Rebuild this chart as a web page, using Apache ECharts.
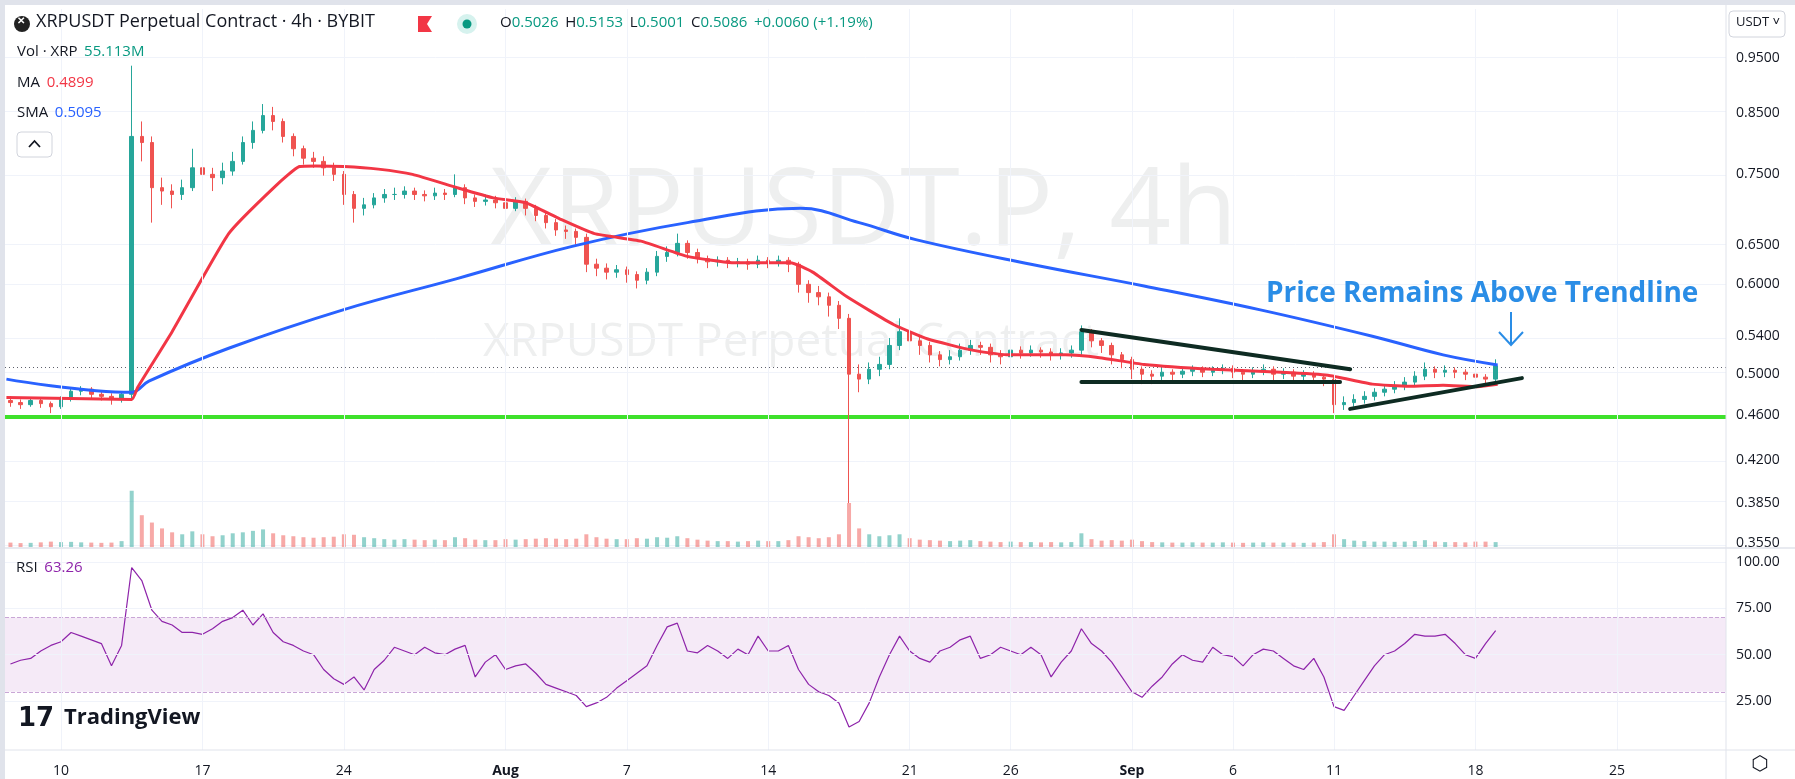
<!DOCTYPE html>
<html><head><meta charset="utf-8">
<script src="https://cdn.jsdelivr.net/npm/echarts@6/dist/echarts.min.js"></script>
<style>html,body{margin:0;padding:0;background:#fff}#c{width:1795px;height:779px}</style>
</head><body><div id="c"></div>
<script>
// 12h candles; x = day offset from 2023-07-10, first candle centred at -2.5
const closes=[.472,.470,.474,.471,.468,.475,.483,.485,.480,.478,.476,.480,
.810,.800,.730,.725,.720,.730,.760,.750,.745,.755,.770,.800,.820,.845,.835,.810,.790,.775,.770,.760,.750,.720,.700,.705,.715,.720,.720,.725,
.720,.718,.722,.720,.730,.715,.710,.712,.708,.700,.710,.700,.690,.680,.670,.668,.660,.625,.620,.615,.618,.612,.605,.615,.635,.640,.652,.640,.632,.628,
.630,.627,.628,.625,.630,.627,.630,.625,.600,.590,.585,.575,.560,.500,.495,.505,.510,.530,.545,.535,.530,.520,.515,.518,.525,.530,.528,.520,.518,.525,
.522,.525,.523,.520,.522,.525,.545,.535,.530,.520,.515,.505,.500,.498,.502,.500,.503,.505,.502,.504,.506,.502,.500,.503,.505,.500,.502,.498,.500,.497,
.495,.470,.472,.475,.478,.482,.485,.488,.492,.498,.505,.502,.504,.502,.500,.497,.495,.5086];
const lows=[.468,.466,.468,.467,.462,.466,.473,.479,.476,.474,.470,.472,
.476,.770,.680,.705,.700,.712,.725,.735,.725,.735,.748,.765,.790,.815,.820,.800,.778,.765,.760,.748,.740,.705,.680,.690,.700,.708,.712,.714,
.712,.710,.712,.712,.716,.706,.702,.704,.700,.692,.696,.690,.682,.672,.662,.658,.650,.615,.610,.606,.608,.602,.595,.600,.610,.628,.635,.632,.626,.620,
.622,.620,.621,.618,.620,.620,.622,.615,.590,.578,.575,.562,.548,.385,.482,.490,.498,.505,.525,.528,.520,.512,.508,.510,.514,.520,.520,.512,.510,.514,
.516,.518,.517,.514,.515,.517,.520,.528,.522,.510,.506,.495,.490,.490,.494,.494,.496,.498,.497,.498,.500,.496,.494,.496,.499,.494,.495,.492,.493,.491,
.488,.462,.465,.468,.471,.474,.478,.481,.484,.488,.494,.496,.497,.496,.494,.490,.488,.493];
const highs=[.478,.475,.477,.476,.473,.478,.486,.488,.487,.483,.481,.482,
.935,.835,.810,.745,.735,.742,.790,.770,.760,.768,.785,.810,.835,.865,.860,.840,.815,.795,.785,.778,.768,.755,.725,.715,.722,.728,.730,.732,
.730,.726,.730,.728,.750,.735,.720,.720,.718,.712,.716,.714,.705,.694,.685,.676,.672,.665,.632,.626,.624,.622,.616,.620,.642,.648,.665,.656,.645,.636,
.635,.634,.633,.632,.636,.634,.636,.634,.628,.605,.598,.590,.580,.565,.510,.512,.518,.538,.560,.550,.540,.534,.524,.525,.532,.536,.534,.532,.525,.530,
.529,.530,.528,.527,.527,.530,.552,.548,.538,.533,.523,.518,.508,.504,.507,.505,.507,.509,.508,.508,.510,.509,.505,.507,.510,.508,.506,.505,.504,.503,
.500,.497,.478,.480,.483,.486,.490,.493,.497,.503,.512,.508,.509,.507,.505,.503,.500,.5153];
const firstOpen=.474;
const volumes=[90,80,85,95,110,100,105,95,90,85,90,120,
1150,650,500,380,300,260,320,260,220,240,280,300,330,360,280,240,220,200,190,200,210,260,250,200,180,160,150,160,
150,140,150,140,200,180,150,140,140,160,150,160,170,180,170,160,170,260,200,170,160,160,180,170,200,190,220,180,150,130,
120,120,110,120,130,120,120,140,220,200,180,200,260,900,380,260,220,240,260,180,150,140,130,120,130,140,120,110,100,110,
100,100,95,100,95,100,280,160,130,140,130,150,120,100,95,90,90,95,90,90,95,90,85,90,95,90,90,90,85,90,
100,260,160,130,120,110,110,105,110,120,140,110,100,100,95,110,110,100];
const rsi=[45,47,48,52,55,57,62,60,58,56,44,55,
97,90,74,68,66,62,62,61,64,68,70,74,66,72,62,57,55,52,50,42,37,34,38,31,42,47,54,52,
50,54,51,50,53,55,38,46,50,42,44,45,40,34,32,30,28,22,24,27,32,36,40,44,55,65,67,52,51,55,
52,48,53,50,60,52,52,55,42,34,30,28,24,11,14,24,38,50,60,52,48,46,52,54,58,60,48,50,54,52,
50,54,50,38,46,52,64,56,52,46,38,30,27,33,38,45,50,47,46,54,50,49,44,50,53,52,48,44,42,48,
38,22,20,28,36,44,50,52,56,61,60,60,61,56,50,48,56,63];
// moving averages: [day offset from Jul 10, price]
const maPts=[[-2.7,.477],[3.5,.475],[3.8,.487],[5.5,.545],[8.3,.665],[10.6,.732],[11.8,.762],[12.6,.763],[14,.762],[15.7,.758],[17.4,.75],[19.6,.73],[21.4,.715],[23,.708],[24.7,.685],[26.4,.665],[28.7,.655],[31,.635],[33.2,.627],[36.1,.627],[37.2,.615],[38.9,.585],[41.2,.553],[42.9,.537],[45.1,.525],[46.8,.52],[49.7,.52],[51.4,.517],[53.6,.51],[57,.505],[60.4,.502],[62.7,.499],[64.9,.49],[66.7,.488],[68.4,.489],[70.1,.4875],[71.1,.4899]];
const smaPts=[[-2.7,.495],[3.5,.482],[4.35,.493],[8.3,.527],[14,.57],[19.6,.607],[25.3,.648],[31,.68],[36.6,.70],[39.5,.68],[42.3,.657],[48,.625],[53.6,.598],[59.3,.57],[64.9,.54],[68.4,.52],[71.1,.5095]];
const trendUpper=[[50.5,.547],[63.8,.505]];
const trendFlat=[[50.5,.492],[63.3,.492]];
const trendRising=[[63.8,.466],[72.3,.496]];
const supportLevel=.458, lastPrice=.5086;
const priceTicks=[0.95,0.85,0.75,0.65,0.60,0.54,0.50,0.46,0.42,0.385,0.355];
const rsiTicks=[25,50,75,100];
const dateTickDays=[0,7,14,22,28,35,42,47,53,58,63,70,77];
const dateTickLabels=['10','17','24','Aug','7','14','21','26','Sep','6','11','18','25'];

const t=i=>-2.5+0.5*i, L=Math.log;
const xMin=-2.77, xMax=82.4;
const cdata=closes.map((c,i)=>{const o=i?closes[i-1]:firstOpen;return [t(i),L(o),L(c),L(lows[i]),L(highs[i])];});
const vdata=volumes.map((v,i)=>{const o=i?closes[i-1]:firstOpen;return {value:[t(i),v],itemStyle:{color:closes[i]>=o?'rgba(38,166,154,0.5)':'rgba(239,83,80,0.5)'}};});
const pts=a=>a.map(([d,p])=>[d,L(p)]);
const F='"Open Sans", sans-serif';
const gridCol='#f0f3fa';
const labelOf=v=>{const k=dateTickDays.findIndex(d=>Math.abs(d-v)<1e-6);return k<0?'':dateTickLabels[k];};
const bold=new Set(['Aug','Sep']);

const chart=echarts.init(document.getElementById('c'));
chart.setOption({
 animation:false,
 grid:[{left:5,right:69,top:9,height:538},{left:5,right:69,top:549,height:201}],
 xAxis:[
  {type:'value',gridIndex:0,min:xMin,max:xMax,axisLine:{show:false},axisTick:{show:false},axisLabel:{show:false},splitLine:{show:false}},
  {type:'value',gridIndex:1,min:xMin,max:xMax,axisLine:{show:false},axisTick:{show:false},splitLine:{show:false},
   axisLabel:{customValues:dateTickDays,margin:14,fontFamily:F,fontSize:14,color:'#131722',
     formatter:v=>{const s=labelOf(v);return bold.has(s)?'{b|'+s+'}':s;},rich:{b:{fontWeight:'bold',fontFamily:F,fontSize:14,color:'#131722'}}}}
 ],
 yAxis:[
  {type:'value',gridIndex:0,position:'right',min:L(0.3521),max:L(1.049),axisLine:{show:false},axisTick:{show:false},splitLine:{show:false},
   axisLabel:{customValues:priceTicks.map(L),formatter:v=>Math.exp(v).toFixed(4),fontFamily:F,fontSize:14,color:'#131722',margin:10}},
  {type:'value',gridIndex:0,min:0,max:11000,show:false},
  {type:'value',gridIndex:1,position:'right',min:-1.4,max:107,axisLine:{show:false},axisTick:{show:false},splitLine:{show:false},
   axisLabel:{customValues:rsiTicks,formatter:v=>v.toFixed(2),fontFamily:F,fontSize:14,color:'#131722',margin:10}}
 ],
 series:[
  {type:'bar',xAxisIndex:0,yAxisIndex:1,data:vdata,barWidth:4,z:1,
   markLine:{silent:true,symbol:'none',label:{show:false},lineStyle:{color:gridCol,width:1,type:'solid'},
     data:dateTickDays.map(d=>({xAxis:d}))}},
  {type:'candlestick',xAxisIndex:0,yAxisIndex:0,data:cdata,barWidth:4,z:3,
   itemStyle:{color:'#26a69a',color0:'#ef5350',borderColor:'#26a69a',borderColor0:'#ef5350',borderWidth:1},
   markLine:{silent:true,symbol:'none',label:{show:false},z:1,
     data:[...priceTicks.map(p=>({yAxis:L(p),lineStyle:{color:gridCol,width:1,type:'solid'}})),
       {yAxis:L(lastPrice),lineStyle:{color:'#5d606b',width:1,type:[1,3]}},
       {yAxis:L(supportLevel),lineStyle:{color:'#3ee12b',width:4,type:'solid'}}]}},
  {type:'line',xAxisIndex:0,yAxisIndex:0,data:pts(smaPts),smooth:0.4,symbol:'none',z:4,lineStyle:{color:'#2962ff',width:3}},
  {type:'line',xAxisIndex:0,yAxisIndex:0,data:pts(maPts),smooth:0.15,symbol:'none',z:4,lineStyle:{color:'#f23645',width:3}},
  ...[trendUpper,trendFlat,trendRising].map(a=>({type:'line',xAxisIndex:0,yAxisIndex:0,data:pts(a),symbol:'none',z:5,lineStyle:{color:'#0e2b22',width:4,cap:'round'}})),
  {type:'line',xAxisIndex:1,yAxisIndex:2,data:rsi.map((v,i)=>[t(i),v]),symbol:'none',z:4,lineStyle:{color:'#8e24aa',width:1.2},
   markArea:{silent:true,itemStyle:{color:'rgba(186,104,200,0.14)'},data:[[{yAxis:30},{yAxis:70}]]},
   markLine:{silent:true,symbol:'none',label:{show:false},
     data:[{yAxis:70,lineStyle:{color:'#c9a6d6',type:'dashed',width:1}},{yAxis:30,lineStyle:{color:'#c9a6d6',type:'dashed',width:1}},
       ...rsiTicks.map(v=>({yAxis:v,lineStyle:{color:gridCol,type:'solid',width:1}})),
       ...dateTickDays.map(d=>({xAxis:d,lineStyle:{color:gridCol,type:'solid',width:1}}))]}}
 ],
 graphic:[
  {type:'rect',shape:{x:0,y:0,width:5,height:779},style:{fill:'#e0e3eb'},z:10},
  {type:'rect',shape:{x:0,y:0,width:1795,height:5},style:{fill:'#e0e3eb'},z:10},
  {type:'line',shape:{x1:5,y1:548,x2:1795,y2:548},style:{stroke:'#e0e3eb',lineWidth:1.5},z:10},
  {type:'line',shape:{x1:5,y1:750,x2:1795,y2:750},style:{stroke:'#e0e3eb',lineWidth:1},z:10},
  {type:'line',shape:{x1:1726,y1:5,x2:1726,y2:779},style:{stroke:'#e0e3eb',lineWidth:1},z:10},
  {type:'text',left:490,top:160,style:{text:'XRPUSDT.P, 4h',font:'108px "Open Sans", sans-serif',fill:'rgba(19,23,34,0.07)'},z:0},
  {type:'text',left:483,top:320,style:{text:'XRPUSDT Perpetual Contract',font:'46px "Open Sans", sans-serif',fill:'rgba(19,23,34,0.07)'},z:0},
  {type:'circle',shape:{cx:22,cy:24,r:8},style:{fill:'#222'},z:10},
  {type:'text',left:17,top:16,style:{text:'✕',font:'bold 10px sans-serif',fill:'#fff'},z:11},
  {type:'text',left:36,top:13,style:{text:'XRPUSDT Perpetual Contract · 4h · BYBIT',font:'18px '+F,fill:'#131722'},z:10},
  {type:'polygon',shape:{points:[[418,16],[432,16],[427,24],[432,32],[418,32]]},style:{fill:'#f23645'},z:10},
  {type:'circle',shape:{cx:467,cy:24,r:10},style:{fill:'#d6f2ee'},z:10},
  {type:'circle',shape:{cx:467,cy:24,r:4.5},style:{fill:'#089981'},z:10},
  {type:'text',left:500,top:15,style:{rich:{k:{font:'15px '+F,fill:'#131722'},v:{font:'15px '+F,fill:'#089981'}},
    text:'{k|O}{v|0.5026}  {k|H}{v|0.5153}  {k|L}{v|0.5001}  {k|C}{v|0.5086}  {v|+0.0060 (+1.19%)}'},z:10},
  {type:'text',left:17,top:44,style:{rich:{k:{font:'15px '+F,fill:'#131722'},v:{font:'15px '+F,fill:'#089981'}},text:'{k|Vol · XRP}  {v|55.113M}'},z:10},
  {type:'text',left:17,top:75,style:{rich:{k:{font:'15px '+F,fill:'#131722'},v:{font:'15px '+F,fill:'#f23645'}},text:'{k|MA}  {v|0.4899}'},z:10},
  {type:'text',left:17,top:105,style:{rich:{k:{font:'15px '+F,fill:'#131722'},v:{font:'15px '+F,fill:'#2962ff'}},text:'{k|SMA}  {v|0.5095}'},z:10},
  {type:'rect',shape:{x:17,y:132,width:35,height:25,r:4},style:{fill:'#fff',stroke:'#d1d4dc',lineWidth:1},z:10},
  {type:'polyline',shape:{points:[[29,147],[34.5,141],[40,147]]},style:{stroke:'#131722',lineWidth:1.8,fill:null},z:11},
  {type:'text',left:16,top:560,style:{rich:{k:{font:'15px '+F,fill:'#131722'},v:{font:'15px '+F,fill:'#8e24aa'}},text:'{k|RSI}  {v|63.26}'},z:10},
  {type:'text',left:18,top:706,style:{text:'17',font:'bold 26px "DejaVu Sans", sans-serif',fill:'#131722'},z:10},
  {type:'text',left:64,top:707,style:{text:'TradingView',font:'bold 22px '+F,fill:'#131722'},z:10},
  {type:'rect',shape:{x:1729,y:11,width:56,height:26,r:4},style:{fill:'#fff',stroke:'#d1d4dc',lineWidth:1},z:10},
  {type:'text',left:1736,top:16,style:{text:'USDT ˅',font:'13px '+F,fill:'#131722'},z:11},
  {type:'text',left:1266,top:280,style:{text:'Price Remains Above Trendline',font:'bold 28px '+F,fill:'#2a8de6'},z:10},
  {type:'line',shape:{x1:1511,y1:312,x2:1511,y2:344},style:{stroke:'#2a8de6',lineWidth:2},z:10},
  {type:'polyline',shape:{points:[[1499,332],[1511,345],[1523,332]]},style:{stroke:'#2a8de6',lineWidth:2,fill:null},z:10},
  {type:'text',left:1751,top:755,style:{text:'⬡',font:'20px "DejaVu Sans"',fill:'#131722'},z:10}
 ]
});
</script></body></html>
